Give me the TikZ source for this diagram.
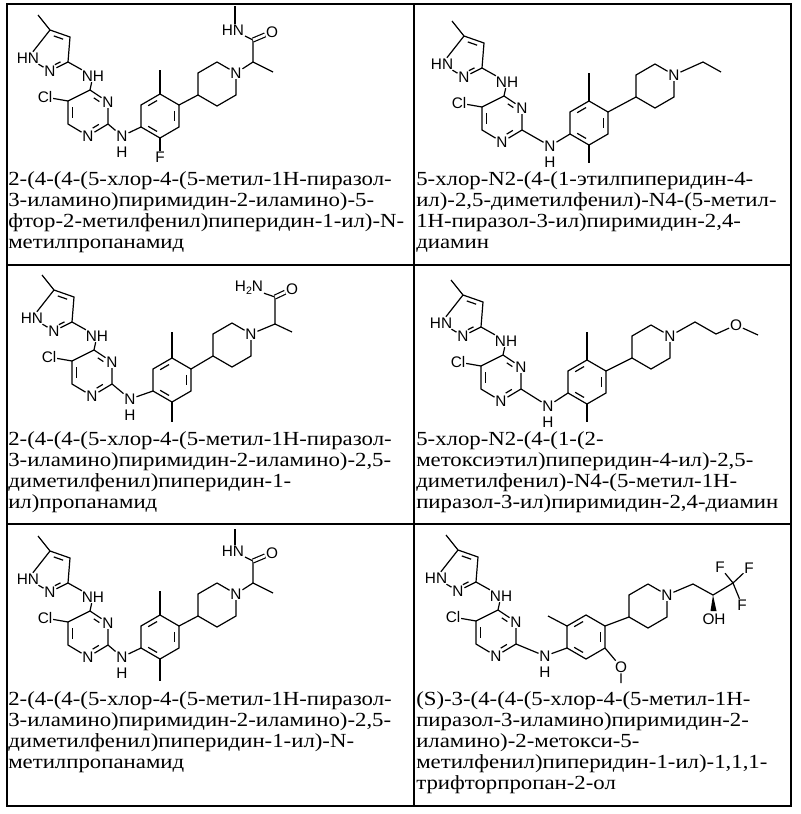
\documentclass[tikz,border=0pt]{standalone}
\usepackage{fontspec}
\setmainfont[FakeStretch=1.14]{Liberation Serif}
\newfontfamily\atomfont{Liberation Sans}
\usetikzlibrary{calc}
\tikzset{
  bond/.style={line width=0.9pt},
  atom/.style={font=\atomfont\fontsize{11.5}{12}\selectfont, inner sep=0.5pt},
  txt/.style={font=\fontsize{15}{15.75}\selectfont, align=left, anchor=north west, inner sep=0pt},
  grid/.style={line width=1pt}
}
\newcommand\inl[4][0.2]{\draw[bond] ($(#2)!#1!(#3)!0.22!(#4)$) -- ($(#3)!#1!(#2)!0.22!(#4)$);}
% core: pyrazole + pyrimidine
\newcommand\core[3]{%
\begin{scope}[shift={(#2,#3)}]
\coordinate (#1me) at (38,15);
\coordinate (#1c5) at (50,30);
\coordinate (#1c4) at (70,37);
\coordinate (#1c3) at (68,62);
\coordinate (#1pz) at (53,52);
\node[atom] (#1n2) at (50,71) {N};
\node[atom] (#1n1) at (28,58) {HN};
\node[atom] (#1nh) at (93,76) {NH};
\coordinate (#1a4) at (90,90);
\node[atom] (#1a3) at (108,102) {N};
\coordinate (#1a2) at (108,124);
\node[atom] (#1a1) at (88,136) {N};
\coordinate (#1a6) at (68,124);
\coordinate (#1a5) at (68,101);
\coordinate (#1pm) at (88,113);
\node[atom] (#1cl) at (45,97) {Cl};
\draw[bond] (#1me)--(#1c5)--(#1c4)--(#1c3)--(#1n2)--(#1n1)--(#1c5);
\inl{#1c5}{#1c4}{#1pz}
\inl[0.3]{#1c3}{#1n2}{#1pz}
\draw[bond] (#1c3)--(#1nh)--(#1a4)--(#1a3)--(#1a2)--(#1a1)--(#1a6)--(#1a5)--(#1a4);
\draw[bond] (#1a5)--(#1cl);
\inl[0.3]{#1a4}{#1a3}{#1pm}
\inl[0.3]{#1a2}{#1a1}{#1pm}
\inl{#1a6}{#1a5}{#1pm}
\end{scope}}
% phenyl
\newcommand\phen[3]{%
\coordinate (#1c) at (#2,#3);
\coordinate (#1t) at ($(#1c)+(0,-22)$);
\coordinate (#1ur) at ($(#1c)+(19,-11)$);
\coordinate (#1lr) at ($(#1c)+(19,11)$);
\coordinate (#1b) at ($(#1c)+(0,22)$);
\coordinate (#1ll) at ($(#1c)+(-19,11)$);
\coordinate (#1ul) at ($(#1c)+(-19,-11)$);
\draw[bond] (#1t)--(#1ur)--(#1lr)--(#1b)--(#1ll)--(#1ul)--cycle;
\inl{#1ul}{#1t}{#1c}\inl{#1ur}{#1lr}{#1c}\inl{#1b}{#1ll}{#1c}}
% piperidine
\newcommand\pip[3]{%
\coordinate (#1c) at (#2,#3);
\coordinate (#1t) at ($(#1c)+(0,-22)$);
\node[atom] (#1n) at ($(#1c)+(19,-11)$) {N};
\coordinate (#1lr) at ($(#1c)+(19,11)$);
\coordinate (#1b) at ($(#1c)+(0,22)$);
\coordinate (#1ll) at ($(#1c)+(-19,11)$);
\coordinate (#1ul) at ($(#1c)+(-19,-11)$);
\draw[bond] (#1t)--(#1n)--(#1lr)--(#1b)--(#1ll)--(#1ul)--(#1t);}
\begin{document}
\begin{tikzpicture}[x=0.75pt,y=-0.75pt]
\useasboundingbox (0,0) rectangle (800,814);
\draw[grid] (7,4) rectangle (791,806);
\draw[grid] (414,4)--(414,806);
\draw[grid] (7,265)--(791,265);
\draw[grid] (7,524)--(791,524);
% ---------- cell 1
\begin{scope}
\core{A}{0}{0}
\node[atom] (Anh) at (122,136) {N};
\node[atom] (Ah) at (122,152) {H};
\phen{Ap}{160}{116}
\pip{Ai}{217}{84}
\coordinate (Ame) at (160,70);
\node[atom] (Af) at (160,157) {F};
\coordinate (Ach) at (253,62);
\coordinate (Ame2) at (273,72);
\coordinate (Aco) at (253,40);
\node[atom] (Ao) at (272,32) {O};
\node[atom] (Ahn) at (233,30) {HN};
\coordinate (Ame3) at (235,6);
\draw[bond] (Aa2)--(Anh)--(Apll);
\draw[bond] (Apt)--(Ame); \draw[bond] (Apb)--(Af);
\draw[bond] (Apur)--(Aill);
\draw[bond] (Ain)--(Ach)--(Ame2); \draw[bond] (Ach)--(Aco)--(Ahn);
\draw[bond] ($(Ahn.north)+(2,0)$)--(Ame3);
\draw[bond,double,double distance=2pt] (Aco)--(Ao);
\end{scope}
\node[txt] at (8,171) {2-(4-(4-(5-хлор-4-(5-метил-1H-пиразол-\\3-иламино)пиримидин-2-иламино)-5-\\фтор-2-метилфенил)пиперидин-1-ил)-N-\\метилпропанамид};
% ---------- cell 2
\begin{scope}[shift={(408,0)}]
\core{B}{6}{6}
\node[atom] (Bnh) at (142,146) {N};
\node[atom] (Bh) at (142,162) {H};
\phen{Bp}{181}{123}
\pip{Bi}{247}{86}
\coordinate (Bm1) at (181,73);
\coordinate (Bm2) at (181,163);
\coordinate (Be1) at (295,62);
\coordinate (Be2) at (313,72);
\draw[bond] (Ba2)--(Bnh)--(Bpll);
\draw[bond] (Bpt)--(Bm1); \draw[bond] (Bpb)--(Bm2);
\draw[bond] (Bpur)--(Bill);
\draw[bond] (Bin)--(Be1)--(Be2);
\end{scope}
\node[txt] at (416,171) {5-хлор-N2-(4-(1-этилпиперидин-4-\\ил)-2,5-диметилфенил)-N4-(5-метил-\\1H-пиразол-3-ил)пиримидин-2,4-\\диамин};
% ---------- cell 3
\begin{scope}[shift={(0,262)}]
\core{C}{4}{-2}
\node[atom] (Cnh) at (130,137) {N};
\node[atom] (Ch) at (130,153) {H};
\phen{Cp}{172}{118}
\pip{Ci}{232}{83}
\coordinate (Cm1) at (172,70);
\coordinate (Cm2) at (172,160);
\coordinate (Cch) at (275,62);
\coordinate (Cme) at (292,70);
\coordinate (Cco) at (275,35);
\node[atom] (Co) at (292,27) {O};
\node[atom] (Cnh2) at (249,26) {H\raisebox{-0.35ex}{\fontsize{8}{8}\selectfont 2}N};
\draw[bond] (Ca2)--(Cnh)--(Cpll);
\draw[bond] (Cpt)--(Cm1); \draw[bond] (Cpb)--(Cm2);
\draw[bond] (Cpur)--(Cill);
\draw[bond] (Cin)--(Cch)--(Cme); \draw[bond] (Cch)--(Cco)--(Cnh2);
\draw[bond,double,double distance=2pt] (Cco)--(Co);
\end{scope}
\node[txt] at (8,431) {2-(4-(4-(5-хлор-4-(5-метил-1H-пиразол-\\3-иламино)пиримидин-2-иламино)-2,5-\\диметилфенил)пиперидин-1-\\ил)пропанамид};
% ---------- cell 4
\begin{scope}[shift={(408,262)}]
\core{D}{5}{3}
\node[atom] (Dnh) at (140,144) {N};
\node[atom] (Dh) at (140,160) {H};
\phen{Dp}{179}{120}
\pip{Di}{243}{85}
\coordinate (Dm1) at (179,70);
\coordinate (Dm2) at (179,160);
\coordinate (De1) at (287,60);
\coordinate (De2) at (308,72);
\node[atom] (Do) at (328,63) {O};
\coordinate (De3) at (350,73);
\draw[bond] (Da2)--(Dnh)--(Dpll);
\draw[bond] (Dpt)--(Dm1); \draw[bond] (Dpb)--(Dm2);
\draw[bond] (Dpur)--(Dill);
\draw[bond] (Din)--(De1)--(De2)--(Do)--(De3);
\end{scope}
\node[txt] at (416,431) {5-хлор-N2-(4-(1-(2-\\метоксиэтил)пиперидин-4-ил)-2,5-\\диметилфенил)-N4-(5-метил-1H-\\пиразол-3-ил)пиримидин-2,4-диамин};
% ---------- cell 5
\begin{scope}[shift={(0,521)}]
\core{E}{0}{0}
\node[atom] (Enh) at (122,136) {N};
\node[atom] (Eh) at (122,152) {H};
\phen{Ep}{160}{116}
\pip{Ei}{217}{84}
\coordinate (Eme) at (160,70);
\coordinate (Emb) at (160,160);
\coordinate (Ech) at (253,62);
\coordinate (Eme2) at (273,72);
\coordinate (Eco) at (253,40);
\node[atom] (Eo) at (272,32) {O};
\node[atom] (Ehn) at (233,30) {HN};
\coordinate (Eme3) at (235,8);
\draw[bond] (Ea2)--(Enh)--(Epll);
\draw[bond] (Ept)--(Eme); \draw[bond] (Epb)--(Emb);
\draw[bond] (Epur)--(Eill);
\draw[bond] (Ein)--(Ech)--(Eme2); \draw[bond] (Ech)--(Eco)--(Ehn);
\draw[bond] ($(Ehn.north)+(2,0)$)--(Eme3);
\draw[bond,double,double distance=2pt] (Eco)--(Eo);
\end{scope}
\node[txt] at (8,691) {2-(4-(4-(5-хлор-4-(5-метил-1H-пиразол-\\3-иламино)пиримидин-2-иламино)-2,5-\\диметилфенил)пиперидин-1-ил)-N-\\метилпропанамид};
% ---------- cell 6
\begin{scope}[shift={(408,520)}]
\core{F}{0}{0}
\node[atom] (Fnh) at (137,136) {N};
\node[atom] (Fh) at (137,152) {H};
\phen{Fp}{178}{117}
\pip{Fi}{240}{86}
\coordinate (Fm1) at (140,96);
\node[atom] (Fo) at (213,147) {O};
\coordinate (Fm2) at (213,163);
\coordinate (Fc1) at (285,64);
\coordinate (Fc2) at (305,75);
\coordinate (Fc3) at (325,63);
\node[atom] (Ff1) at (312,47) {F};
\node[atom] (Ff2) at (341,48) {F};
\node[atom] (Ff3) at (334,85) {F};
\node[atom] (Foh) at (306,99) {OH};
\draw[bond] (Fa2)--(Fnh)--(Fpll);
\draw[bond] (Fpul)--(Fm1);
\draw[bond] (Fplr)--(Fo)--(Fm2);
\draw[bond] (Fpur)--(Fill);
\draw[bond] (Fin)--(Fc1)--(Fc2)--(Fc3);
\draw[bond] (Fc3)--(Ff1); \draw[bond] (Fc3)--(Ff2); \draw[bond] (Fc3)--(Ff3);
\fill (Fc2) -- (302.5,91) -- (308.5,91) -- cycle;
\end{scope}
\node[txt] at (416,691) {(S)-3-(4-(4-(5-хлор-4-(5-метил-1H-\\пиразол-3-иламино)пиримидин-2-\\иламино)-2-метокси-5-\\метилфенил)пиперидин-1-ил)-1,1,1-\\трифторпропан-2-ол};
\end{tikzpicture}
\end{document}
